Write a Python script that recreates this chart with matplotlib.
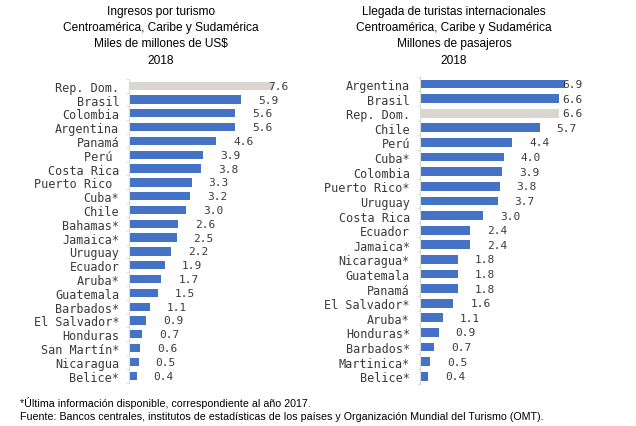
import matplotlib
matplotlib.use("Agg")
import matplotlib.pyplot as plt
import numpy as np

# ---- data ----
left_categories = ["Rep. Dom.", "Brasil", "Colombia", "Argentina", "Panamá", "Perú ",
                   "Costa Rica", "Puerto Rico ", "Cuba*", "Chile", "Bahamas*", "Jamaica*",
                   "Uruguay", "Ecuador", "Aruba*", "Guatemala", "Barbados*", "El Salvador*",
                   "Honduras", "San Martín*", "Nicaragua", "Belice*"]
left_values = [7.6, 5.9, 5.6, 5.6, 4.6, 3.9, 3.8, 3.3, 3.2, 3.0, 2.6, 2.5,
               2.2, 1.9, 1.7, 1.5, 1.1, 0.9, 0.7, 0.6, 0.5, 0.4]
left_highlight = "Rep. Dom."

right_categories = ["Argentina", "Brasil", "Rep. Dom.", "Chile", "Perú", "Cuba*", "Colombia",
                    "Puerto Rico*", "Uruguay", "Costa Rica", "Ecuador", "Jamaica*",
                    "Nicaragua*", "Guatemala", "Panamá", "El Salvador*", "Aruba*",
                    "Honduras*", "Barbados*", "Martinica*", "Belice*"]
right_values = [6.9, 6.6, 6.6, 5.7, 4.4, 4.0, 3.9, 3.8, 3.7, 3.0, 2.4, 2.4,
                1.8, 1.8, 1.8, 1.6, 1.1, 0.9, 0.7, 0.5, 0.4]
right_highlight = "Rep. Dom."

left_title = ["Ingresos por turismo", "Centroamérica, Caribe y Sudamérica",
              "Miles de millones de US$", "2018"]
right_title = ["Llegada de turistas internacionales", "Centroamérica, Caribe y Sudamérica",
               "Millones de pasajeros", "2018"]
footnotes = ["*Última información disponible, correspondiente al año 2017.",
             "Fuente: Bancos centrales, institutos de estadísticas de los países y Organización Mundial del Turismo (OMT)."]

BLUE = "#4472C4"
GRAY = "#D9D5CF"
TEXT = "#3A3A3A"
MONO = "DejaVu Sans Mono"

W, H = 636, 427
fig = plt.figure(figsize=(W / 100, H / 100), dpi=100)
fig.patch.set_facecolor("white")


def px_axes(x0, x1, y0, y1):
    return fig.add_axes([x0 / W, 1 - y1 / H, (x1 - x0) / W, (y1 - y0) / H])


def draw_panel(ax, cats, vals, hl, xmax, gap, clamp):
    n = len(cats)
    y = np.arange(n)
    colors = [GRAY if c == hl else BLUE for c in cats]
    ax.barh(y, vals, height=0.6, color=colors, zorder=2)
    ax.set_ylim(n - 0.5, -0.5)
    ax.set_xlim(0, xmax)
    ax.set_yticks(y)
    ax.set_yticklabels(cats, fontfamily=MONO, fontsize=8.5, color=TEXT)
    ax.set_yticks(np.arange(n + 1) - 0.5, minor=True)
    ax.tick_params(axis="y", which="major", length=0, pad=7)
    ax.tick_params(axis="y", which="minor", length=2.5, color="#E0E0E0", width=0.7)
    ax.set_xticks([])
    for s in ("top", "right", "bottom"):
        ax.spines[s].set_visible(False)
    ax.spines["left"].set_color("#D9D9D9")
    ax.spines["left"].set_linewidth(0.8)
    ax.patch.set_alpha(0)
    for yi, v in zip(y, vals):
        ax.text(min(v + gap, clamp), yi, f"{v:.1f}", fontfamily=MONO, fontsize=8,
                color=TEXT, va="center", ha="left", zorder=3)


axL = px_axes(129, 292, 79.8, 383.6)
draw_panel(axL, left_categories, left_values, left_highlight,
           xmax=163 / 19.0, gap=17 / 19.0, clamp=139 / 19.0)

axR = px_axes(419.7, 587, 77.7, 384.6)
draw_panel(axR, right_categories, right_values, right_highlight,
           xmax=167.3 / 21.05, gap=17 / 21.05, clamp=143 / 21.05)

title_y = [12, 28, 44.5, 61]
for lines, cx in ((left_title, 160.7), (right_title, 454)):
    for t, yy in zip(lines, title_y):
        fig.text(cx / W, 1 - yy / H, t, ha="center", va="center",
                 fontfamily="Liberation Sans", fontsize=8.6, color="black")

for t, yy in zip(footnotes, (402.7, 416.7)):
    fig.text(20 / W, 1 - yy / H, t, ha="left", va="center",
             fontfamily="Liberation Sans", fontsize=7.7, color="black")

fig.savefig("out.png", dpi=100, facecolor="white")
